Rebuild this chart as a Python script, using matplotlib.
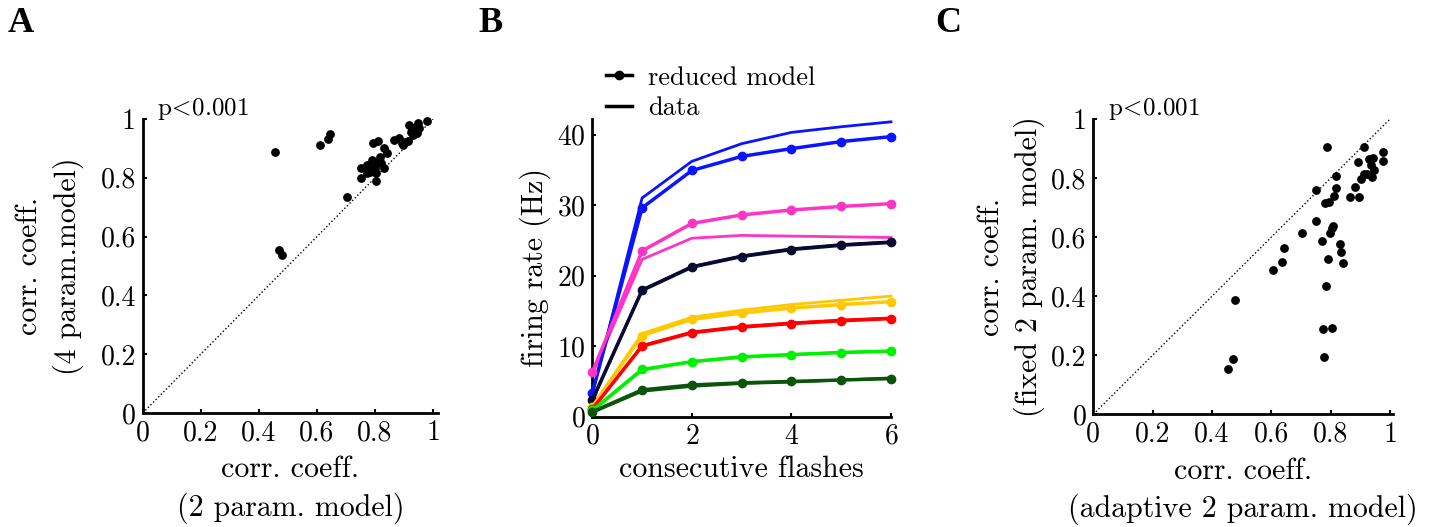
import matplotlib
matplotlib.use("Agg")
import matplotlib.pyplot as plt
from matplotlib.lines import Line2D
import numpy as np

plt.rcParams['font.family'] = 'serif'
plt.rcParams['font.serif'] = ['cmr10']
plt.rcParams['mathtext.fontset'] = 'cm'
plt.rcParams['axes.unicode_minus'] = False
plt.rcParams['axes.formatter.use_mathtext'] = True

# panel A: 2 param vs 4 param model
a_x = [0.457, 0.609, 0.637, 0.644, 0.470, 0.481, 0.704, 0.751, 0.752, 0.774,
       0.789, 0.794, 0.811, 0.803, 0.800, 0.792, 0.817, 0.805, 0.783, 0.830,
       0.841, 0.831, 0.822, 0.800, 0.772, 0.867, 0.882, 0.895, 0.912, 0.918,
       0.935, 0.940, 0.949, 0.943, 0.929, 0.980, 0.904, 0.893, 0.924, 0.952,
       0.931]
a_y = [0.889, 0.911, 0.932, 0.948, 0.554, 0.537, 0.736, 0.798, 0.832, 0.815,
       0.860, 0.919, 0.926, 0.789, 0.832, 0.843, 0.872, 0.815, 0.821, 0.900,
       0.883, 0.832, 0.849, 0.855, 0.843, 0.928, 0.934, 0.911, 0.925, 0.980,
       0.963, 0.974, 0.985, 0.951, 0.968, 0.993, 0.923, 0.919, 0.957, 0.968,
       0.946]

# panel C: adaptive vs fixed 2 param model
c_x = [0.455, 0.470, 0.479, 0.604, 0.635, 0.643, 0.704, 0.749, 0.751, 0.772,
       0.783, 0.773, 0.778, 0.806, 0.791, 0.797, 0.803, 0.809, 0.831, 0.834,
       0.842, 0.789, 0.782, 0.796, 0.811, 0.818, 0.817, 0.865, 0.894, 0.881,
       0.902, 0.891, 0.913, 0.912, 0.928, 0.944, 0.946, 0.939, 0.937, 0.976,
       0.976, 0.924]
c_y = [0.152, 0.188, 0.387, 0.490, 0.517, 0.562, 0.614, 0.653, 0.758, 0.586,
       0.436, 0.288, 0.193, 0.293, 0.527, 0.613, 0.630, 0.639, 0.577, 0.551,
       0.514, 0.905, 0.714, 0.720, 0.739, 0.767, 0.807, 0.737, 0.736, 0.769,
       0.798, 0.854, 0.905, 0.814, 0.866, 0.867, 0.827, 0.805, 0.844, 0.889,
       0.857, 0.814]

# panel B: firing rate over consecutive flashes
flashes = [0, 1, 2, 3, 4, 5, 6]
colors = ['#0a14ff', '#ff33c4', '#0a0a30', '#ffc800', '#ff0000', '#00f000', '#0a550a']
model = [
    [3.4, 29.6, 34.9, 36.9, 38.0, 39.0, 39.7],
    [6.3, 23.5, 27.4, 28.6, 29.3, 29.8, 30.2],
    [2.4, 17.9, 21.2, 22.7, 23.7, 24.3, 24.7],
    [1.4, 11.5, 13.8, 14.7, 15.4, 15.9, 16.3],
    [1.1, 10.0, 11.9, 12.7, 13.2, 13.6, 13.9],
    [0.9, 6.7, 7.8, 8.5, 8.8, 9.1, 9.3],
    [0.7, 3.8, 4.5, 4.8, 5.0, 5.2, 5.4],
]
data = [
    [3.2, 31.0, 36.2, 38.7, 40.3, 41.1, 41.8],
    [6.0, 22.3, 25.3, 25.7, 25.6, 25.5, 25.4],
    [2.2, 18.0, 21.3, 22.8, 23.8, 24.4, 24.8],
    [1.5, 11.8, 14.1, 15.1, 15.9, 16.5, 17.1],
    [1.0, 10.1, 12.0, 12.8, 13.3, 13.7, 14.0],
    [0.8, 6.6, 7.8, 8.4, 8.8, 9.1, 9.3],
    [0.6, 3.6, 4.3, 4.7, 4.9, 5.2, 5.5],
]

W, H = 1435, 527
fig = plt.figure(figsize=(W / 100, H / 100), dpi=100)

def px_axes(x0, y_top, x1, y_bot):
    return fig.add_axes([x0 / W, 1 - y_bot / H, (x1 - x0) / W, (y_bot - y_top) / H])

def style(ax):
    for s in ['top', 'right']:
        ax.spines[s].set_visible(False)
    for s in ['left', 'bottom']:
        ax.spines[s].set_linewidth(2.0)
    ax.tick_params(direction='in', length=3, width=1.5, labelsize=20, pad=5)

fs = 21.5
ptext = r'$\mathrm{p}\!<\!0.001$'

# ---- panel A
axA = px_axes(142.7, 119, 438, 413)
axA.plot([0, 1], [0, 1], ':', color='black', lw=1.0)
axA.scatter(a_x, a_y, s=28, color='black', zorder=3, clip_on=False)
axA.set_xlim(0, 1.017)
axA.set_ylim(0, 1.0)
axA.set_xticks([0, 0.2, 0.4, 0.6, 0.8, 1])
axA.set_xticklabels(['0', '0.2', '0.4', '0.6', '0.8', '1'])
axA.set_yticks([0, 0.2, 0.4, 0.6, 0.8, 1])
axA.set_yticklabels(['0', '0.2', '0.4', '0.6', '0.8', '1'])
style(axA)
axA.set_xlabel('corr. coeff.\n(2 param. model)', fontsize=fs, linespacing=1.4, labelpad=7)
axA.set_ylabel('corr. coeff.\n(4 param.model)', fontsize=fs, linespacing=1.4, labelpad=12)
axA.text(0.05, 1.035, ptext, fontsize=18, ha='left', va='center')

# ---- panel B
axB = px_axes(592.3, 119, 891, 416.7)
for c, m, d in zip(colors, model, data):
    axB.plot(flashes, d, '-', color=c, lw=2.0, clip_on=False)
    axB.plot(flashes, m, '-o', color=c, lw=2.5, ms=6, clip_on=False, zorder=3)
axB.set_xlim(0, 6)
axB.set_ylim(0, 42.2)
axB.set_xticks([0, 2, 4, 6])
axB.set_yticks([0, 10, 20, 30, 40])
style(axB)
axB.set_xlabel('consecutive flashes', fontsize=fs)
axB.set_ylabel('firing rate (Hz)', fontsize=fs)
handles = [Line2D([], [], color='black', lw=2.5, marker='o', ms=6),
           Line2D([], [], color='black', lw=2.5)]
fig.legend(handles, ['reduced model', 'data'], loc='upper left',
           bbox_to_anchor=(606 / W, 1 - 66 / H), frameon=False, fontsize=19,
           handlelength=1.0, handletextpad=0.6, labelspacing=0.25,
           borderpad=0, borderaxespad=0)

# ---- panel C
axC = px_axes(1093.3, 119, 1393, 414.3)
axC.plot([0, 1], [0, 1], ':', color='black', lw=1.0)
axC.scatter(c_x, c_y, s=28, color='black', zorder=3, clip_on=False)
axC.set_xlim(0, 1.01)
axC.set_ylim(0, 1.0)
axC.set_xticks([0, 0.2, 0.4, 0.6, 0.8, 1])
axC.set_xticklabels(['0', '0.2', '0.4', '0.6', '0.8', '1'])
axC.set_yticks([0, 0.2, 0.4, 0.6, 0.8, 1])
axC.set_yticklabels(['0', '0.2', '0.4', '0.6', '0.8', '1'])
style(axC)
axC.set_xlabel('corr. coeff.\n(adaptive 2 param. model)', fontsize=fs, linespacing=1.4, labelpad=7)
axC.set_ylabel('corr. coeff.\n(fixed 2 param. model)', fontsize=fs, linespacing=1.4)
axC.text(0.05, 1.035, ptext, fontsize=18, ha='left', va='center')

# panel letters
for lab, x in [('A', 8), ('B', 478), ('C', 935)]:
    fig.text(x / W, 1 - 24 / H, lab, fontsize=26, fontweight='bold',
             family='Liberation Serif', ha='left', va='center')

fig.savefig('out.png', dpi=100)
